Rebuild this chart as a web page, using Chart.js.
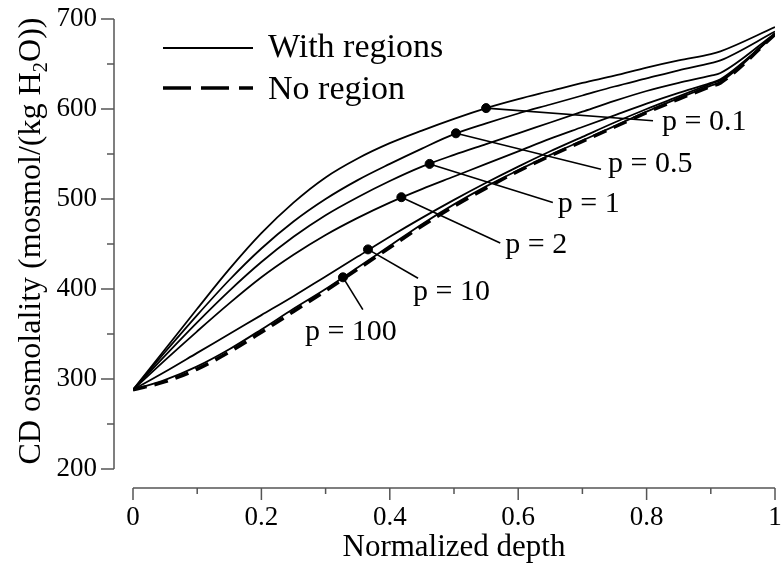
<!DOCTYPE html>
<html>
<head>
<meta charset="utf-8">
<script src="https://cdn.jsdelivr.net/npm/chart.js@4.4.1/dist/chart.umd.min.js"></script>
<style>
  html, body { margin: 0; padding: 0; background: #fff; }
  #wrap { width: 783px; height: 567px; }
</style>
</head>
<body>
<div id="wrap"><canvas id="chart" width="783" height="567"></canvas></div>
<script>
// normalized depth samples
const depth = [0, 0.05, 0.1, 0.15, 0.2, 0.25, 0.3, 0.35, 0.4, 0.45, 0.5, 0.55, 0.6, 0.65, 0.7, 0.75, 0.8, 0.85, 0.9, 0.915, 1];

// CD osmolality, with regions, one array per p
const p01  = [288, 333, 378, 422, 462, 496, 524, 545, 562, 576, 589, 601, 611, 620, 629, 637, 646, 654, 661, 664, 691];
const p05  = [288, 330, 371, 410, 445, 475, 500, 521, 539, 556, 572, 584, 595, 605, 615, 625, 634, 643, 651, 654, 686];
const p1   = [288, 326, 363, 398, 430, 458, 482, 502, 520, 536, 549, 561, 573, 585, 597, 609, 620, 629, 637, 640, 684];
const p2   = [288, 321, 353, 384, 413, 438, 460, 479, 496, 511, 525, 539, 553, 567, 580, 593, 606, 618, 629, 633, 683];
const p10  = [288, 308, 329, 350, 371, 392, 414, 436, 458, 479, 499, 518, 536, 553, 569, 585, 600, 614, 628, 632, 683];
const p100 = [288, 299, 314, 333, 355, 378, 400, 424, 448, 472, 494, 514, 532, 549, 565, 581, 597, 612, 626, 630, 683];
// no region
const noRegion = [288, 297, 311, 330, 352, 375, 398, 422, 446, 470, 492, 512, 531, 548, 564, 580, 596, 611, 625, 629, 683];

// labelled points on each curve and where their leader lines end
const pLabels = ['p = 0.1', 'p = 0.5', 'p = 1', 'p = 2', 'p = 10', 'p = 100'];
const pDotX   = [0.55, 0.503, 0.462, 0.418, 0.366, 0.327];
const pDotY   = [601, 573, 539, 502, 444, 413];
const pEndX   = [0.81, 0.729, 0.654, 0.572, 0.444, 0.358];
const pEndY   = [587, 533, 496, 451, 412, 377];

const xTicks = [0, 0.2, 0.4, 0.6, 0.8, 1];
const xTickLabels = ['0', '0.2', '0.4', '0.6', '0.8', '1'];
const yTicks = [200, 300, 400, 500, 600, 700];

const FONT = '"Liberation Serif", "Times New Roman", serif';

// text placement of the p labels relative to leader end: dx, dy, align
const labelPlace = [
  [9, 1, 'left'], [7, -5, 'left'], [5, 2, 'left'], [5, 2, 'left'], [-5, 14, 'left'], [-12, 22, 'center']
];

function pts(ys) { return ys.map((y, i) => ({ x: depth[i], y: y })); }

const solid = (data) => ({
  data: pts(data), borderColor: '#000', borderWidth: 1.8, pointRadius: 0,
  cubicInterpolationMode: 'monotone', fill: false, order: 2
});

const axesPlugin = {
  id: 'axesPlugin',
  afterDraw(chart) {
    const ctx = chart.ctx;
    const xs = chart.scales.x, ys = chart.scales.y;
    const ca = chart.chartArea;
    ctx.save();
    ctx.strokeStyle = '#555';
    ctx.lineWidth = 1.5;
    // y axis, shifted left of the plot
    const ax = ca.left - 19;
    ctx.beginPath();
    ctx.moveTo(ax, ys.getPixelForValue(700));
    ctx.lineTo(ax, ys.getPixelForValue(200));
    for (let v = 200; v <= 700; v += 50) {
      const y = ys.getPixelForValue(v);
      const len = v % 100 === 0 ? 13 : 7;
      ctx.moveTo(ax - len, y);
      ctx.lineTo(ax, y);
    }
    ctx.stroke();
    // x axis, shifted below the plot
    const ay = ca.bottom + 19;
    ctx.beginPath();
    ctx.moveTo(xs.getPixelForValue(0), ay);
    ctx.lineTo(xs.getPixelForValue(1), ay);
    for (let i = 0; i <= 10; i++) {
      const x = xs.getPixelForValue(i / 10);
      const len = i % 2 === 0 ? 12 : 6;
      ctx.moveTo(x, ay);
      ctx.lineTo(x, ay + len);
    }
    ctx.stroke();

    ctx.fillStyle = '#000';
    ctx.font = '27px ' + FONT;
    ctx.textAlign = 'right';
    ctx.textBaseline = 'middle';
    yTicks.forEach(v => ctx.fillText(String(v), ax - 17, ys.getPixelForValue(v)));
    ctx.textAlign = 'center';
    xTicks.forEach((v, i) => ctx.fillText(xTickLabels[i], xs.getPixelForValue(v), ay + 30));

    // axis titles
    ctx.font = '31px ' + FONT;
    ctx.textBaseline = 'alphabetic';
    ctx.fillText('Normalized depth', (ca.left + ca.right) / 2, ay + 68);

    ctx.translate(40, 241);
    ctx.rotate(-Math.PI / 2);
    const a = 'CD osmolality (mosmol/(kg H', b = '2', c = 'O))';
    ctx.font = '32px ' + FONT;
    const wa = ctx.measureText(a).width, wc = ctx.measureText(c).width;
    ctx.font = '21px ' + FONT;
    const wb = ctx.measureText(b).width;
    let x0 = -(wa + wb + wc) / 2;
    ctx.textAlign = 'left';
    ctx.font = '32px ' + FONT;
    ctx.fillText(a, x0, 0);
    ctx.font = '21px ' + FONT;
    ctx.fillText(b, x0 + wa, 7);
    ctx.font = '32px ' + FONT;
    ctx.fillText(c, x0 + wa + wb, 0);
    ctx.restore();

    // legend
    ctx.save();
    ctx.strokeStyle = '#000';
    ctx.lineWidth = 1.8;
    ctx.beginPath();
    ctx.moveTo(163, 48); ctx.lineTo(253, 48);
    ctx.stroke();
    ctx.lineWidth = 3.5;
    ctx.setLineDash([28, 10]);
    ctx.beginPath();
    ctx.moveTo(163, 88); ctx.lineTo(253, 88);
    ctx.stroke();
    ctx.setLineDash([]);
    ctx.fillStyle = '#000';
    ctx.font = '34px ' + FONT;
    ctx.textAlign = 'left';
    ctx.textBaseline = 'alphabetic';
    ctx.fillText('With regions', 268, 57);
    ctx.fillText('No region', 268, 99);
    ctx.restore();
  },
  afterDatasetsDraw(chart) {
    const ctx = chart.ctx;
    const xs = chart.scales.x, ys = chart.scales.y;
    ctx.save();
    ctx.strokeStyle = '#000';
    ctx.fillStyle = '#000';
    ctx.lineWidth = 1.6;
    ctx.font = '30px ' + FONT;
    ctx.textBaseline = 'middle';
    pLabels.forEach((t, i) => {
      const x1 = xs.getPixelForValue(pDotX[i]), y1 = ys.getPixelForValue(pDotY[i]);
      const x2 = xs.getPixelForValue(pEndX[i]), y2 = ys.getPixelForValue(pEndY[i]);
      ctx.beginPath();
      ctx.moveTo(x1, y1); ctx.lineTo(x2, y2);
      ctx.stroke();
      const pl = labelPlace[i];
      ctx.textAlign = pl[2];
      ctx.fillText(t, x2 + pl[0], y2 + pl[1]);
    });
    ctx.restore();
  }
};

new Chart(document.getElementById('chart'), {
  type: 'line',
  data: {
    datasets: [
      { type: 'scatter', data: pDotX.map((x, i) => ({ x: x, y: pDotY[i] })), backgroundColor: '#000',
        borderColor: '#000', pointRadius: 4.5, pointHoverRadius: 4.5, showLine: false, order: 0 },
      solid(p01), solid(p05), solid(p1), solid(p2), solid(p10), solid(p100),
      { data: pts(noRegion), borderColor: '#000', borderWidth: 3.5, borderDash: [14, 8], pointRadius: 0,
        cubicInterpolationMode: 'monotone', fill: false, order: 3 }
    ]
  },
  options: {
    responsive: false,
    animation: false,
    layout: { padding: { left: 133, right: 8, top: 19, bottom: 98 } },
    scales: {
      x: { type: 'linear', min: 0, max: 1, display: false },
      y: { type: 'linear', min: 200, max: 700, display: false }
    },
    plugins: { legend: { display: false }, tooltip: { enabled: false } }
  },
  plugins: [axesPlugin]
});
</script>
</body>
</html>
